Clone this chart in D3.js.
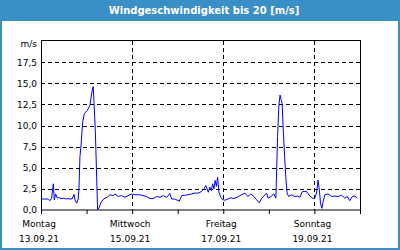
<!DOCTYPE html>
<html>
<head>
<meta charset="utf-8">
<script src="https://cdn.jsdelivr.net/npm/d3@7"></script>
<style>
  body { margin: 0; background: #fff; }
  text { font-family: "DejaVu Sans", sans-serif; }
</style>
</head>
<body>
<div id="chart"></div>
<script>
var title = "Windgeschwindigkeit bis 20 [m/s]"
var unit = "m/s"
var yTicks = [0, 2.5, 5, 7.5, 10, 12.5, 15, 17.5]
var labelDays = [13, 15, 17, 19]
var dayNames = ["Montag", "Mittwoch", "Freitag", "Sonntag"]
var dateNames = ["13.09.21", "15.09.21", "17.09.21", "19.09.21"]

// hours since Mo 13.09.21 00:00, wind speed in m/s
var hours = [0, 3.8, 4.7, 5.6, 6.5, 7.0, 7.7, 8.6, 9.1, 10.0, 11.1, 12.1, 13.2, 14.2, 15.3, 16.3, 17.4, 17.9, 18.8, 19.6,
  20.0, 20.5, 21.1, 21.9, 22.8, 24.4, 25.8, 26.3, 27.0, 27.5, 27.9, 28.6, 29.3, 29.8, 30.5, 31.4, 32.5, 33.7, 34.9, 36.3,
  38.1, 38.9, 40.7, 42.5, 44.2, 45.9, 47.7, 49.5, 52.1, 53.8, 55.6, 57.4, 59.1, 60.9, 62.6, 64.4, 66.2, 67.9, 68.8, 70.5,
  72.8, 74.1, 75.8, 77.5, 79.3, 81.1, 82.8, 84.6, 85.8, 86.8, 88.1, 88.9, 89.7, 90.4, 91.1, 91.7, 92.4, 93.0, 93.7, 94.6,
  95.5, 96.8, 98.4, 100.0, 101.6, 103.2, 105.6, 107.4, 108.9, 110.5, 112.1, 113.4, 114.9, 116.3, 118.8, 119.6, 121.1, 122.6, 123.7, 124.0,
  124.6, 125.3, 125.9, 126.5, 127.0, 127.5, 128.3, 128.9, 129.6, 130.4, 131.9, 133.7, 135.0, 136.3, 137.7, 139.8, 141.6, 143.0, 144.2, 145.1,
  145.9, 146.6, 147.2, 147.9, 148.6, 149.5, 151.2, 153.0, 154.7, 156.5, 158.3, 160.0, 161.3, 162.6, 163.9, 165.3, 166.5]
var speed = [1.3, 1.3, 1.1, 1.4, 3.1, 1.2, 1.9, 1.4, 1.5, 1.4, 1.35, 1.4, 1.3, 1.35, 1.3, 1.3, 1.85, 1.2, 0.8, 1.3,
  2.6, 6.3, 7.7, 10.3, 11.4, 11.8, 12.4, 13.2, 14.2, 14.6, 12.8, 9.5, 4.0, 0.05, 0.2, 0.8, 1.2, 1.4, 1.5, 1.8,
  1.7, 1.9, 1.6, 1.7, 1.5, 1.7, 1.9, 1.8, 1.8, 1.7, 1.6, 1.35, 1.35, 1.6, 1.5, 1.7, 1.5, 1.95, 1.3, 1.3,
  1.05, 1.7, 1.75, 1.8, 1.9, 2.0, 2.0, 2.2, 2.5, 2.9, 2.1, 2.7, 2.3, 3.1, 2.5, 3.5, 2.8, 3.9, 2.1, 1.55,
  1.25, 1.15, 1.3, 1.45, 1.35, 1.5, 1.8, 2.0, 1.6, 1.9, 1.6, 1.25, 0.85, 1.4, 2.0, 1.4, 1.6, 1.9, 1.4, 3.75,
  8.7, 12.45, 13.6, 13.0, 12.6, 9.9, 6.3, 3.95, 2.0, 1.6, 1.8, 1.6, 1.65, 1.5, 2.2, 2.2, 1.65, 1.4, 1.4, 2.0,
  3.55, 2.35, 0.8, 0.2, 1.0, 1.8, 1.9, 1.6, 1.65, 1.6, 1.75, 1.4, 1.6, 1.1, 1.6, 1.65, 1.4]

var W = 400, H = 250
var blue = "#3a8fc6"
var margin = {top: 41, right: 40, bottom: 40, left: 41}
var width = W - margin.left - margin.right,
    height = H - margin.top - margin.bottom

var start = new Date(2021, 8, 13)
var data = hours.map(function(h, i) { return [new Date(+start + h * 3600e3), speed[i]] })

var svg = d3.select("#chart").append("svg")
  .attr("width", W)
  .attr("height", H)

// frame + title bar
svg.append("rect").attr("width", W).attr("height", H).attr("fill", blue)
svg.append("rect").attr("x", 2).attr("y", 21).attr("width", W - 4).attr("height", H - 23).attr("fill", "#fff")
svg.append("text")
  .attr("x", W / 2 + 4).attr("y", 14)
  .attr("text-anchor", "middle")
  .attr("fill", "#fff")
  .attr("font-size", 10)
  .attr("font-weight", "bold")
  .text(title)

var g = svg.append("g").attr("transform", "translate(" + margin.left + "," + margin.top + ")")

var x = d3.scaleTime()
  .domain([start, new Date(2021, 8, 20)])
  .range([0, width])
var y = d3.scaleLinear()
  .domain([0, 20])
  .range([height, 0])

// horizontal dashed grid
g.append("g").selectAll("line")
  .data(yTicks.filter(function(d) { return d > 0 }))
  .enter().append("line")
    .attr("x1", 0).attr("x2", width)
    .attr("y1", function(d) { return Math.round(y(d)) + 0.5 })
    .attr("y2", function(d) { return Math.round(y(d)) + 0.5 })
    .attr("stroke", "#000")
    .attr("stroke-dasharray", "4,3")

// vertical dashed grid every second day
g.append("g").selectAll("line")
  .data(labelDays.slice(1))
  .enter().append("line")
    .attr("x1", function(d) { return Math.round(x(new Date(2021, 8, d))) + 0.5 })
    .attr("x2", function(d) { return Math.round(x(new Date(2021, 8, d))) + 0.5 })
    .attr("y1", 0).attr("y2", height)
    .attr("stroke", "#000")
    .attr("stroke-dasharray", "4,3")

// day ticks
var xAxis = g.append("g")
  .attr("transform", "translate(0," + height + ")")
  .call(d3.axisBottom(x).ticks(d3.timeDay.every(1)).tickSize(4).tickFormat(""))
xAxis.select(".domain").remove()

// y labels
var yAxis = g.append("g")
  .call(d3.axisLeft(y).tickValues(yTicks).tickSize(0).tickPadding(4)
    .tickFormat(function(d) { return d3.format(".1f")(d).replace(".", ",") }))
yAxis.select(".domain").remove()
yAxis.selectAll("text").attr("font-size", 9).attr("font-family", "DejaVu Sans").attr("fill", "#000")

g.append("text")
  .attr("x", -4).attr("y", 6)
  .attr("text-anchor", "end")
  .attr("font-size", 9)
  .text(unit)

// plot border
g.append("rect")
  .attr("x", 0.5).attr("y", -0.5)
  .attr("width", width).attr("height", height + 0.5)
  .attr("fill", "none")
  .attr("stroke", "#000")

// the series
var line = d3.line()
  .x(function(d) { return x(d[0]) })
  .y(function(d) { return y(d[1]) })
g.append("path")
  .datum(data)
  .attr("d", line)
  .attr("fill", "none")
  .attr("stroke", "#0000ff")
  .attr("stroke-width", 1)

// day / date labels
labelDays.forEach(function(d, i) {
  var px = x(new Date(2021, 8, d)) - 2
  g.append("text").attr("x", px).attr("y", height + 17)
    .attr("text-anchor", "middle").attr("font-size", 9).text(dayNames[i])
  g.append("text").attr("x", px).attr("y", height + 32)
    .attr("text-anchor", "middle").attr("font-size", 9).text(dateNames[i])
})
</script>
</body>
</html>
